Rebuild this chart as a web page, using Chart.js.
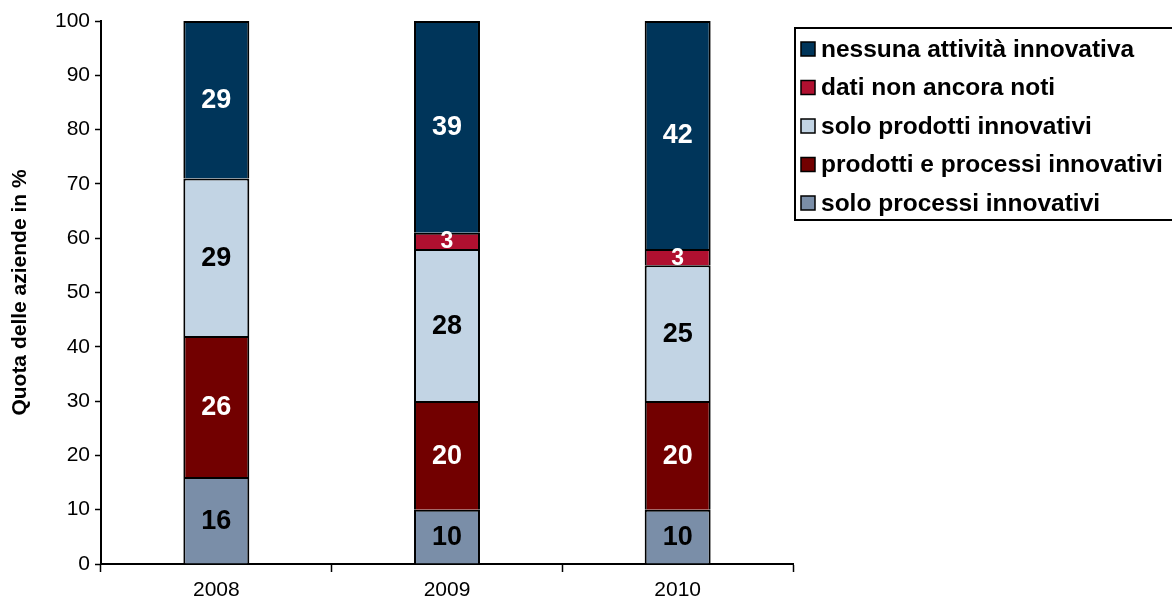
<!DOCTYPE html>
<html>
<head>
<meta charset="utf-8">
<script src="https://cdn.jsdelivr.net/npm/chart.js@4/dist/chart.umd.min.js"></script>
<style>
  html, body { margin: 0; padding: 0; background: #fff; }
  #wrap { width: 1172px; height: 608px; position: relative; }
</style>
</head>
<body>
<div id="wrap"><canvas id="grafico" width="1172" height="608"></canvas></div>
<script>
// dati
const anni = ["2008", "2009", "2010"];
const soloProcessi = [16, 10, 10];
const prodottiProcessi = [26, 20, 20];
const soloProdotti = [29, 28, 25];
const datiNonNoti = [0, 3, 3];
const nessunaAttivita = [29, 39, 42];
const yTicks = [0, 10, 20, 30, 40, 50, 60, 70, 80, 90, 100];

const FONT = "'Liberation Sans', Arial, sans-serif";

// etichette al centro delle barre
const etichette = {
  id: "etichette",
  afterDatasetsDraw(chart) {
    const ctx = chart.ctx;
    ctx.save();
    ctx.textAlign = "center";
    ctx.textBaseline = "middle";
    chart.data.datasets.forEach((ds, i) => {
      const meta = chart.getDatasetMeta(i);
      meta.data.forEach((bar, j) => {
        const v = ds.data[j];
        if (!v) return;
        // le barre sottili hanno un'etichetta piu piccola
        ctx.font = "bold " + (v < 5 ? 23 : 27) + "px " + FONT;
        ctx.fillStyle = ds.labelColor;
        ctx.fillText(String(v), bar.x, (bar.y + bar.base) / 2 + 1);
      });
    });
    ctx.restore();
  }
};

// legenda con riquadro
const legendaBox = {
  id: "legendaBox",
  afterDraw(chart) {
    const ctx = chart.ctx;
    const x0 = 795, y0 = 28, w = 380, h = 192;
    ctx.save();
    ctx.strokeStyle = "#000";
    ctx.lineWidth = 2;
    ctx.strokeRect(x0, y0, w, h);
    ctx.font = "bold 24.5px " + FONT;
    ctx.textBaseline = "middle";
    const items = chart.data.datasets.slice().reverse();
    items.forEach((ds, k) => {
      const cy = 49 + k * 38.5;
      ctx.fillStyle = ds.backgroundColor;
      ctx.fillRect(801, cy - 7, 14, 14);
      ctx.lineWidth = 1.5;
      ctx.strokeRect(801, cy - 7, 14, 14);
      ctx.fillStyle = "#000";
      ctx.fillText(ds.label, 821, cy + 1);
    });
    ctx.restore();
  }
};

function serie(label, data, colore, coloreEtichetta) {
  return {
    label: label,
    data: data,
    backgroundColor: colore,
    borderColor: "#000",
    borderWidth: 2,
    borderSkipped: "start",
    labelColor: coloreEtichetta,
    categoryPercentage: 1,
    barPercentage: 0.286
  };
}

new Chart(document.getElementById("grafico"), {
  type: "bar",
  data: {
    labels: anni,
    datasets: [
      serie("solo processi innovativi", soloProcessi, "#7a8ea8", "#000"),
      serie("prodotti e processi innovativi", prodottiProcessi, "#720000", "#fff"),
      serie("solo prodotti innovativi", soloProdotti, "#c2d4e4", "#000"),
      serie("dati non ancora noti", datiNonNoti, "#b01030", "#fff"),
      serie("nessuna attività innovativa", nessunaAttivita, "#00355a", "#fff")
    ]
  },
  options: {
    responsive: false,
    animation: false,
    layout: { padding: { top: 21, right: 379, left: 0, bottom: 0 } },
    plugins: {
      legend: { display: false },
      tooltip: { enabled: false }
    },
    scales: {
      x: {
        stacked: true,
        grid: { offset: true, drawOnChartArea: false, tickLength: 8, tickColor: "#000", tickWidth: 1.5 },
        border: { color: "#000", width: 2 },
        ticks: { color: "#000", font: { family: FONT, size: 21 }, padding: 6 },
        afterFit(scale) { scale.height = 44; }
      },
      y: {
        stacked: true,
        min: 0,
        max: 100,
        afterBuildTicks(scale) { scale.ticks = yTicks.map(v => ({ value: v })); },
        grid: { drawOnChartArea: false, tickLength: 6, tickColor: "#000", tickWidth: 1.5 },
        border: { color: "#000", width: 2 },
        ticks: { color: "#000", font: { family: FONT, size: 21 }, padding: 5 },
        title: {
          display: true,
          text: "Quota delle aziende in %",
          color: "#000",
          font: { family: FONT, size: 21, weight: "bold" },
          padding: { top: 8, bottom: 4 }
        },
        afterFit(scale) { scale.width = 101; }
      }
    }
  },
  plugins: [etichette, legendaBox]
});
</script>
</body>
</html>
